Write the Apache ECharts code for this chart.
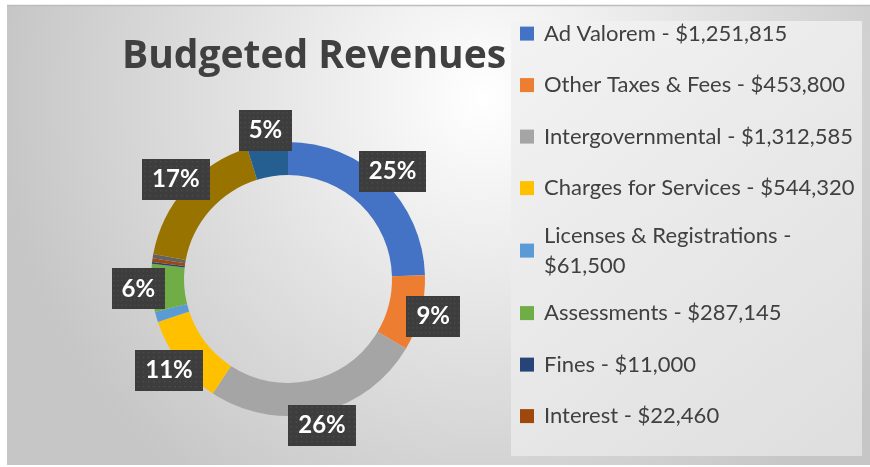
<!DOCTYPE html>
<html><head><meta charset="utf-8">
<script src="https://cdn.jsdelivr.net/npm/echarts@6/dist/echarts.min.js"></script>
<style>html,body{margin:0;padding:0;background:#fff;} #main{width:870px;height:467px;}</style>
</head><body><div id="main"></div>
<script>
// ---- data ----
const categories = ['Ad Valorem', 'Other Taxes & Fees', 'Intergovernmental', 'Charges for Services',
  'Licenses & Registrations', 'Assessments', 'Fines', 'Interest',
  'Miscellaneous', 'Transfers In', 'Fund Balance'];
const values = [1251815, 453800, 1312585, 544320, 61500, 287145, 11000, 22460, 25000, 880000, 245000];
const legendCount = 8; // the legend only lists the first eight categories
const titleText = 'Budgeted Revenues';

// ---- styling ----
const colors = ['#4472C4', '#ED7D31', '#A5A5A5', '#FFC000', '#5B9BD5', '#70AD47',
  '#264478', '#9E480E', '#636363', '#997300', '#255E91'];
const cx = 288, cy = 279, rOuter = 137, rInner = 104;
const legendFont = '22px Lato';
const legendMaxWidth = 314;

const total = values.reduce((a, b) => a + b, 0);
const mids = []; let acc = 0;
values.forEach(v => { mids.push(acc + v / 2); acc += v; });

const mctx = document.createElement('canvas').getContext('2d');
mctx.font = legendFont;

// dotted dark label background
const pc = document.createElement('canvas'); pc.width = 64; pc.height = 42;
const g = pc.getContext('2d');
g.fillStyle = '#3d3d3d'; g.fillRect(0, 0, 64, 42);
g.fillStyle = '#505050';
for (let y = 2; y < 42; y += 5) for (let x = 2; x < 64; x += 5) g.fillRect(x, y, 1.4, 1.4);

const chart = echarts.init(document.getElementById('main'), null, {renderer: 'canvas'});
chart.setOption({
  animation: false,
  graphic: [
    {type: 'rect', silent: true, z: -10, shape: {x: 7, y: 5, width: 863, height: 460},
      style: {fill: {type: 'radial', x: 0.55, y: 0.2, r: 1.05,
        colorStops: [{offset: 0, color: '#ffffff'}, {offset: 0.5, color: '#e2e2e2'}, {offset: 1, color: '#c6c6c6'}]}}},
    {type: 'line', silent: true, z: -9, shape: {x1: 7, y1: 5.5, x2: 870, y2: 5.5},
      style: {stroke: '#bdbdbd', lineWidth: 1.5}},
    {type: 'rect', silent: true, z: 10, shape: {x: 511, y: 21, width: 351, height: 435},
      style: {fill: {type: 'linear', x: 0, y: 0, x2: 1, y2: 1,
        colorStops: [{offset: 0, color: '#f3f3f3'}, {offset: 1, color: '#dedede'}]}}}
  ],
  title: {
    text: titleText, left: 122, top: 37, z: 5, padding: 0,
    textStyle: {fontFamily: 'Open Sans', fontWeight: 'bold', fontSize: 39, color: '#404040'}
  },
  legend: {
    orient: 'vertical', left: 520, top: 18.6, z: 20, selectedMode: false, padding: 0,
    itemWidth: 14, itemHeight: 14, itemGap: 21.5, icon: 'rect',
    data: categories.slice(0, legendCount),
    formatter: name => {
      const i = categories.indexOf(name);
      const a = name + ' -', b = '$' + values[i].toLocaleString('en-US');
      return mctx.measureText(a + ' ' + b).width > legendMaxWidth ? a + '\n' + b : a + ' ' + b;
    },
    textStyle: {fontFamily: 'Lato', fontSize: 22, color: '#404040',
      height: 30, lineHeight: 30, padding: [0, 0, 0, 5]}
  },
  series: [{
    type: 'pie', center: [cx, cy], radius: [rInner, rOuter], startAngle: 90, clockwise: true,
    avoidLabelOverlap: false, percentPrecision: 0, silent: true,
    data: categories.map((n, i) => ({name: n, value: values[i], itemStyle: {color: colors[i]},
      label: {show: values[i] / total >= 0.03}})),
    label: {position: 'inside', formatter: '{d}%', color: '#fff', fontFamily: 'Lato', fontWeight: 'bold',
      fontSize: 24, lineHeight: 25, padding: [8, 10], backgroundColor: {image: pc},
      shadowColor: 'rgba(0,0,0,0.5)', shadowBlur: 6, shadowOffsetX: 3, shadowOffsetY: 4},
    labelLine: {show: false},
    labelLayout: p => {
      const a = mids[p.dataIndex] / total * 2 * Math.PI;
      const r = rOuter + 13;
      return {x: cx + r * Math.sin(a), y: cy - r * Math.cos(a), align: 'center', verticalAlign: 'middle'};
    }
  }]
});
</script></body></html>
